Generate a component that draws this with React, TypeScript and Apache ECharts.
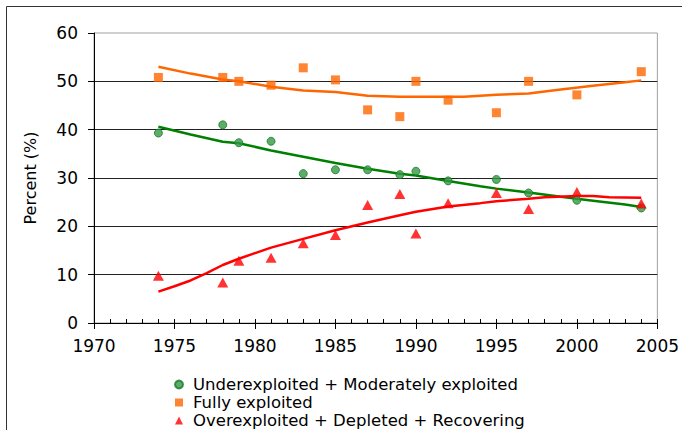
import React, { useEffect, useRef } from "react";
import * as echarts from "echarts";

const years = [1974, 1978, 1979, 1981, 1983, 1985, 1987, 1989, 1990, 1992, 1995, 1997, 2000, 2004];
const underValues = [39.3, 41.0, 37.3, 37.6, 30.9, 31.7, 31.7, 30.7, 31.4, 29.4, 29.7, 26.9, 25.4, 23.8];
const fullyValues = [50.8, 50.8, 50.0, 49.2, 52.8, 50.3, 44.1, 42.7, 50.0, 46.1, 43.5, 50.0, 47.2, 52.0];
const overValues = [9.8, 8.4, 12.9, 13.5, 16.5, 18.2, 24.4, 26.7, 18.5, 24.8, 26.9, 23.6, 27.1, 24.7];

const underTrendYears = [1974, 1976, 1978, 1979, 1981, 1983, 1985, 1987, 1989, 1990, 1992, 1994, 1995, 1997, 1999, 2001, 2003, 2004];
const underTrend = [40.6, 39.0, 37.5, 37.2, 35.7, 34.4, 33.1, 31.9, 30.9, 30.5, 29.4, 28.3, 27.8, 27.0, 26.1, 25.3, 24.5, 24.0];
const fullyTrendYears = [1974, 1976, 1978, 1979, 1981, 1983, 1985, 1987, 1989, 1991, 1993, 1995, 1997, 1999, 2001, 2003, 2004];
const fullyTrend = [53.0, 51.6, 50.4, 50.0, 48.9, 48.1, 47.8, 47.0, 46.8, 46.8, 46.8, 47.2, 47.5, 48.3, 49.1, 49.8, 50.2];
const overTrendYears = [1974, 1975, 1976, 1977, 1978, 1979, 1981, 1983, 1985, 1987, 1989, 1990, 1992, 1994, 1995, 1997, 1998, 2000, 2001, 2002, 2004];
const overTrend = [6.5, 7.6, 8.8, 10.3, 12.0, 13.3, 15.6, 17.4, 19.2, 20.8, 22.3, 23.0, 24.1, 24.8, 25.2, 25.7, 26.0, 26.3, 26.3, 26.0, 25.9];

const seriesNames = [
  "Underexploited + Moderately exploited",
  "Fully exploited",
  "Overexploited + Depleted + Recovering",
];

const FONT = "DejaVu Sans";

const pair = (xs: number[], ys: number[]) => xs.map((x, i) => [x, ys[i]]);

export default function App() {
  const ref = useRef<HTMLDivElement>(null);
  useEffect(() => {
    if (!ref.current) return;
    const chart = echarts.init(ref.current, null, { renderer: "svg" });
    chart.setOption({
      animation: false,
      backgroundColor: "#ffffff",
      grid: {
        left: 94,
        right: 22,
        top: 33,
        bottom: 107,
        show: true,
        borderColor: "#a0a0a0",
        borderWidth: 1,
        backgroundColor: "transparent",
      },
      graphic: [
        {
          type: "rect",
          shape: { x: 6.5, y: 6.5, width: 720, height: 460 },
          style: { fill: "none", stroke: "#333333", lineWidth: 1 },
          silent: true,
        },
      ],
      legend: {
        orient: "vertical",
        left: 174,
        top: 376,
        bottom: 0,
        padding: 0,
        itemGap: 1,
        itemWidth: 8,
        itemHeight: 8,
        textStyle: { fontFamily: FONT, fontSize: 16.5, color: "#000", lineHeight: 17, padding: [0, 0, 0, 5] },
        data: [
          { name: seriesNames[0], icon: "circle" },
          { name: seriesNames[1], icon: "rect" },
          { name: seriesNames[2], icon: "triangle" },
        ],
      },
      xAxis: [
        {
          type: "value",
          min: 1970,
          max: 2005,
          interval: 5,
          axisLine: { show: true, lineStyle: { color: "#000", width: 1 } },
          axisTick: { show: true, inside: false, length: 6, lineStyle: { color: "#000" } },
          axisLabel: { fontFamily: FONT, fontSize: 17, color: "#000", margin: 14, formatter: (v: number) => String(v) },
          splitLine: { show: false },
        },
        {
          type: "value",
          min: 1970,
          max: 2005,
          interval: 1,
          position: "bottom",
          axisLine: { show: false },
          axisTick: { show: true, inside: true, length: 4, lineStyle: { color: "#000" } },
          axisLabel: { show: false },
          splitLine: { show: false },
        },
      ],
      yAxis: {
        type: "value",
        min: 0,
        max: 60,
        interval: 10,
        name: "Percent (%)",
        nameLocation: "middle",
        nameRotate: 90,
        nameGap: 56,
        nameTextStyle: { fontFamily: FONT, fontSize: 16, color: "#000" },
        axisLine: { show: true, lineStyle: { color: "#000", width: 1 } },
        axisTick: { show: true, inside: false, length: 6, lineStyle: { color: "#000" } },
        axisLabel: { fontFamily: FONT, fontSize: 17, color: "#000", margin: 16 },
        splitLine: { show: true, showMaxLine: false, lineStyle: { color: "#222", width: 1 } },
      },
      series: [
        {
          name: seriesNames[0],
          type: "scatter",
          data: pair(years, underValues),
          symbol: "circle",
          symbolSize: 8,
          itemStyle: { color: "#339944", borderColor: "#1a7a2a", borderWidth: 1 },
          z: 3,
        },
        {
          name: seriesNames[1],
          type: "scatter",
          data: pair(years, fullyValues),
          symbol: "rect",
          symbolSize: 9,
          itemStyle: { color: "#ff6600" },
          z: 3,
        },
        {
          name: seriesNames[2],
          type: "scatter",
          data: pair(years, overValues),
          symbol: "triangle",
          symbolSize: [11, 10],
          itemStyle: { color: "#ff0000" },
          z: 3,
        },
        {
          name: "underTrend",
          type: "line",
          data: pair(underTrendYears, underTrend),
          showSymbol: false,
          symbol: "none",
          lineStyle: { color: "#008000", width: 2.5 },
          z: 2,
        },
        {
          name: "fullyTrend",
          type: "line",
          data: pair(fullyTrendYears, fullyTrend),
          showSymbol: false,
          symbol: "none",
          lineStyle: { color: "#ff6600", width: 2.5 },
          z: 2,
        },
        {
          name: "overTrend",
          type: "line",
          data: pair(overTrendYears, overTrend),
          showSymbol: false,
          symbol: "none",
          lineStyle: { color: "#ff0000", width: 2.5 },
          z: 2,
        },
      ],
    });
    return () => chart.dispose();
  }, []);
  return (
    <div
      ref={ref}
      style={{ position: "absolute", left: 0, top: 0, width: 682, height: 430, background: "#fff" }}
    />
  );
}
